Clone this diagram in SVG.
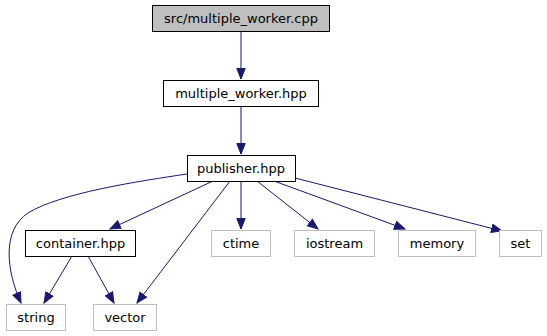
<svg xmlns="http://www.w3.org/2000/svg" width="547" height="336" viewBox="0 0 547 336">
  <style>
    .box { fill: #ffffff; stroke: #000000; stroke-width: 1; }
    .main { fill: #bfbfbf; stroke: #000000; stroke-width: 1; }
    .ext { fill: #ffffff; stroke: #bfbfbf; stroke-width: 1; }
    text { font-family: "DejaVu Sans", "Liberation Sans", sans-serif; font-size: 13px; fill: #000000; text-anchor: middle; }
    .edge { fill: none; stroke: #191970; stroke-width: 1; }
  </style>
  <defs>
    <marker id="arrow" markerUnits="userSpaceOnUse" markerWidth="12" markerHeight="10" refX="11" refY="5" orient="auto">
      <path d="M0.5,0.8 L11,5 L0.5,9.2 Z" fill="#191970" stroke="#191970" stroke-width="1"/>
    </marker>
  </defs>
  <rect width="547" height="336" fill="#ffffff"/>

  <g id="edges">
    <path class="edge" marker-end="url(#arrow)" d="M241,31 L241,79"/>
    <path class="edge" marker-end="url(#arrow)" d="M241,106 L241,154"/>
    <path class="edge" marker-end="url(#arrow)" d="M187,174 C140,181 60,193 28,213 C2,230 6,270 21,303"/>
    <path class="edge" marker-end="url(#arrow)" d="M213,181 L110,229"/>
    <path class="edge" marker-end="url(#arrow)" d="M230,181 L137,303"/>
    <path class="edge" marker-end="url(#arrow)" d="M241,181 L241,229"/>
    <path class="edge" marker-end="url(#arrow)" d="M257,181 L318,229"/>
    <path class="edge" marker-end="url(#arrow)" d="M274,181 L405,229"/>
    <path class="edge" marker-end="url(#arrow)" d="M295,178 L502,231"/>
    <path class="edge" marker-end="url(#arrow)" d="M72,256 L44,303"/>
    <path class="edge" marker-end="url(#arrow)" d="M88,256 L114,303"/>
  </g>

  <g id="node-multiple-worker-cpp">
    <rect class="main" x="152.5" y="5.5" width="177" height="26"/>
    <text x="241" y="23">src/multiple_worker.cpp</text>
  </g>
  <g id="node-multiple-worker-hpp">
    <rect class="box" x="163.5" y="80.5" width="155" height="26"/>
    <text x="241" y="98">multiple_worker.hpp</text>
  </g>
  <g id="node-publisher-hpp">
    <rect class="box" x="187.5" y="155.5" width="108" height="26"/>
    <text x="241" y="173">publisher.hpp</text>
  </g>
  <g id="node-container-hpp">
    <rect class="box" x="25.5" y="230.5" width="110" height="26"/>
    <text x="80.5" y="248">container.hpp</text>
  </g>
  <g id="node-ctime">
    <rect class="ext" x="211.5" y="230.5" width="59" height="26"/>
    <text x="241" y="248">ctime</text>
  </g>
  <g id="node-iostream">
    <rect class="ext" x="294.5" y="230.5" width="80" height="26"/>
    <text x="334.5" y="248">iostream</text>
  </g>
  <g id="node-memory">
    <rect class="ext" x="398.5" y="230.5" width="77" height="26"/>
    <text x="437" y="248">memory</text>
  </g>
  <g id="node-set">
    <rect class="ext" x="499.5" y="230.5" width="42" height="26"/>
    <text x="520.5" y="248">set</text>
  </g>
  <g id="node-string">
    <rect class="ext" x="6.5" y="304.5" width="59" height="26"/>
    <text x="36" y="322">string</text>
  </g>
  <g id="node-vector">
    <rect class="ext" x="93.5" y="304.5" width="63" height="26"/>
    <text x="125" y="322">vector</text>
  </g>
</svg>
